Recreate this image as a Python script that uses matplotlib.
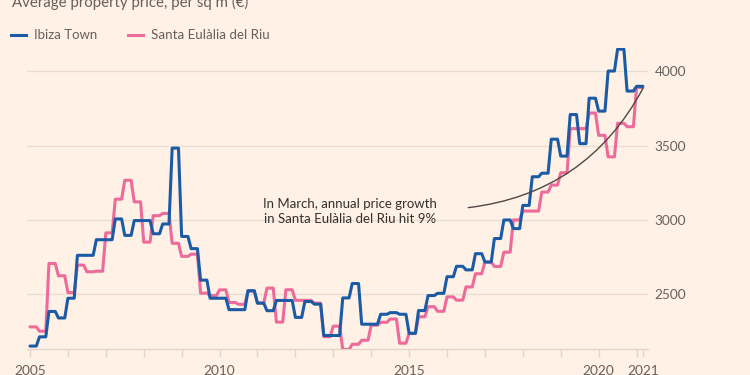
import numpy as np
import matplotlib
matplotlib.use("Agg")
import matplotlib.pyplot as plt
from matplotlib.lines import Line2D

# ---- data (quarterly, 2005 Q1 .. 2021 Q1) ----
start_year = 2005
ibiza = [2151, 2213, 2384, 2340, 2473, 2762, 2762, 2867, 2867, 3007, 2896, 2996, 2996, 2907, 2973, 3484,
         2889, 2807, 2595, 2473, 2473, 2396, 2396, 2524, 2440, 2389, 2458, 2458, 2344, 2451, 2433, 2222,
         2222, 2475, 2572, 2298, 2298, 2365, 2376, 2365, 2237, 2390, 2491, 2506, 2618, 2688, 2664, 2773,
         2717, 2875, 3000, 2942, 3098, 3291, 3315, 3544, 3430, 3710, 3514, 3820, 3733, 4003, 4150, 3868,
         3900]
santa = [2280, 2251, 2707, 2624, 2511, 2696, 2651, 2655, 2913, 3140, 3267, 3122, 2851, 3029, 3044, 2843,
         2755, 2770, 2507, 2491, 2529, 2444, 2432, 2520, 2440, 2541, 2312, 2530, 2459, 2459, 2440, 2214,
         2285, 2128, 2163, 2190, 2291, 2311, 2333, 2170, 2235, 2348, 2416, 2385, 2482, 2460, 2549, 2638,
         2716, 2687, 2783, 3000, 3060, 3060, 3188, 3235, 3318, 3615, 3615, 3720, 3570, 3425, 3651, 3628,
         3892]
series_names = ["Ibiza Town", "Santa Eulàlia del Riu"]
year_labels = {2005: "2005", 2010: "2010", 2015: "2015", 2020: "2020"}
last_tick = 2021 + 2 / 12
last_label = "2021"
y_ticks = [2500, 3000, 3500, 4000]
title = "Average property price, per sq m (€)"
note = "In March, annual price growth\nin Santa Eulàlia del Riu hit 9%"

# ---- style ----
BG = "#fff1e5"
BLUE = "#1b5ba5"
PINK = "#ec6b9a"
GRID = "#e8ddd3"
AXIS = "#e2d5ca"
TXT = "#66605c"
DARK = "#33302e"

plt.rcParams["font.family"] = ["Lato", "DejaVu Sans"]

fig = plt.figure(figsize=(7.5, 3.75), dpi=100, facecolor=BG)
ax = fig.add_axes([0.0356, 0.0685, 0.8288, 0.8043])
ax.set_facecolor(BG)

def stepped(vals):
    t = start_year + 0.25 * np.arange(len(vals))
    xs = np.column_stack([t, t + 2 / 12]).ravel()
    ys = np.repeat(np.asarray(vals, float), 2)
    return xs, ys

xs, ys = stepped(santa)
ax.plot(xs, ys, color=PINK, lw=2.2, solid_joinstyle="round", solid_capstyle="round", zorder=3)
xs, ys = stepped(ibiza)
ax.plot(xs, ys, color=BLUE, lw=2.2, solid_joinstyle="round", solid_capstyle="round", zorder=4)

ax.set_xlim(2004.913, 2021.31)
ax.set_ylim(2129, 4160)

for s in ["top", "left", "right"]:
    ax.spines[s].set_visible(False)
ax.spines["bottom"].set_color(AXIS)
ax.spines["bottom"].set_linewidth(1)

for v in y_ticks:
    ax.axhline(v, color=GRID, lw=1, zorder=1)

xt = list(range(2005, 2022)) + [last_tick]
xl = [year_labels.get(y, "") for y in range(2005, 2022)] + [last_label]
ax.set_xticks(xt)
ax.set_xticklabels(xl)
ax.tick_params(axis="x", length=6, width=1, color=AXIS, pad=5.5, labelsize=9.8, labelcolor=TXT)

ax.yaxis.tick_right()
ax.set_yticks(y_ticks)
ax.set_yticklabels([str(v) for v in y_ticks])
ax.tick_params(axis="y", length=0, pad=4.5, labelsize=9.8, labelcolor=TXT)

# title
fig.text(11.7 / 750, 1 - 7.5 / 375, title, color=TXT, fontsize=10.8, ha="left", va="baseline")

# legend
ly = 1 - 35 / 375
fig.add_artist(Line2D([11 / 750, 26 / 750], [ly, ly], color=BLUE, lw=2.2, transform=fig.transFigure))
fig.text(34 / 750, ly, series_names[0], color=TXT, fontsize=9.5, ha="left", va="center")
fig.add_artist(Line2D([128 / 750, 143 / 750], [ly, ly], color=PINK, lw=2.2, transform=fig.transFigure))
fig.text(151 / 750, ly, series_names[1], color=TXT, fontsize=9.6, ha="left", va="center")

# annotation
ax.text(2013.44, 3057, note, color=DARK, fontsize=9.5, ha="center", va="center",
        multialignment="center", linespacing=1.3, zorder=5)
ax.annotate("", xy=(last_tick, 3885), xytext=(2016.56, 3083),
            arrowprops=dict(arrowstyle="-", connectionstyle="arc3,rad=0.26", color="#4d4845",
                            lw=1, shrinkA=0, shrinkB=0), zorder=5)

fig.savefig("out.png", dpi=100, facecolor=BG)
